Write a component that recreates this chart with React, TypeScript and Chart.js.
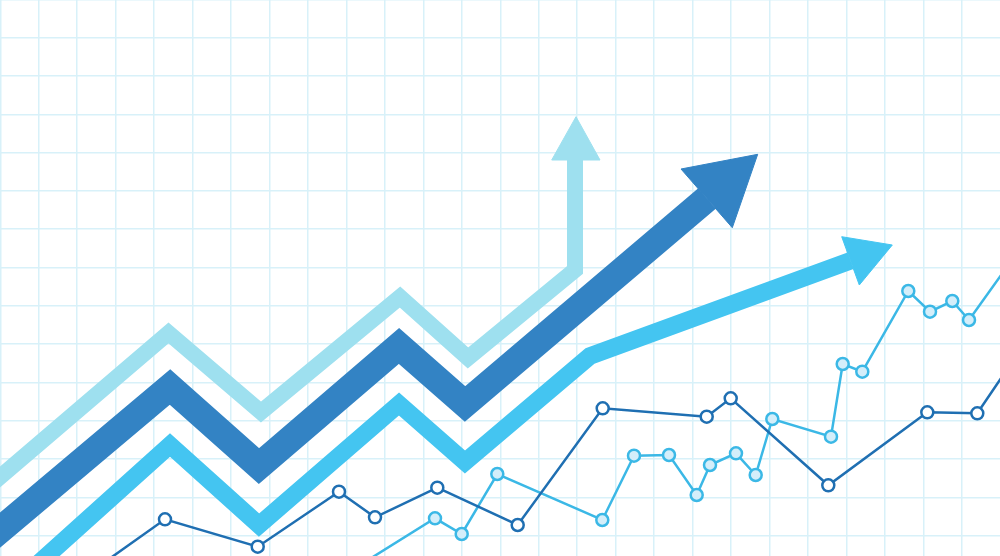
import React, { useEffect, useRef } from "react";
import { Chart, registerables } from "chart.js";

Chart.register(...registerables);

// Grid positions (value units equal to a 1000 x 556 plotting field, y measured downward)
const gridX: number[] = Array.from({ length: 26 }, (_, k) => +(38.46 * k + 0.3).toFixed(1));
const gridY: number[] = Array.from({ length: 15 }, (_, k) => +(38.3 * k - 0.6).toFixed(1));

// Thick trend arrows (centre lines)
const lightArrowX = [-20, 168.5, 261, 400, 468, 575, 575];
const lightArrowY = [494, 333, 412, 297, 358, 270, 160];
const lightHeadX = [551.7, 576, 600];
const lightHeadY = [160, 116.7, 160];

const darkArrowX = [-20, 170, 259, 399, 465, 707];
const darkArrowY = [547, 387, 466, 346, 404, 198.5];
const darkHeadX = [681, 757.7, 732.3];
const darkHeadY = [169, 154.3, 227.7];

const midArrowX = [20, 170, 259, 399, 465, 590, 850.5];
const midArrowY = [580, 445, 525, 404, 462, 356, 260.8];
const midHeadX = [841.7, 892.3, 859.3];
const midHeadY = [236.7, 245, 285];

// Thin marker series
const navyX = [95, 165, 257.7, 339, 375, 437.3, 517.7, 602.7, 706.7, 730.7, 828.3, 927.3, 977.3, 1010];
const navyY = [569, 519.3, 546.7, 491.7, 517.3, 487.7, 525, 408.3, 416.7, 398.3, 485.3, 412.3, 413.3, 365];

const skyX = [360, 435, 461.7, 497.3, 602.3, 634, 669, 696.7, 710, 736, 755.7, 772.3, 831, 842.7, 862.3, 908.3, 930, 952.3, 969, 1010];
const skyY = [565, 518.3, 534, 474, 520, 455.7, 455, 495, 465, 453.3, 475, 419, 436.7, 364, 371.7, 291, 311.7, 301, 320, 262.7];

const pts = (xs: number[], ys: number[]) => xs.map((x, i) => ({ x, y: ys[i] }));
const closed = (xs: number[], ys: number[]) => {
  const p = pts(xs, ys);
  return [...p, p[0]];
};
const radii = (n: number, r: number) => Array.from({ length: n }, (_, i) => (i === 0 || i === n - 1 ? 0 : r));

export default function App() {
  const ref = useRef<HTMLCanvasElement | null>(null);

  useEffect(() => {
    if (!ref.current) return;
    const lineBase = { tension: 0, borderCapStyle: "butt" as const, borderJoinStyle: "miter" as const, pointRadius: 0, fill: false };
    const head = (xs: number[], ys: number[], color: string) => ({
      data: closed(xs, ys),
      borderColor: color,
      backgroundColor: color,
      borderWidth: 1,
      pointRadius: 0,
      tension: 0,
      fill: "shape" as const,
    });

    const chart = new Chart(ref.current, {
      type: "line",
      data: {
        datasets: [
          {
            data: pts(navyX, navyY),
            borderColor: "#1f6fb2",
            borderWidth: 2.5,
            tension: 0,
            fill: false,
            pointRadius: radii(navyX.length, 6),
            pointBorderWidth: 2.5,
            pointBorderColor: "#1f6fb2",
            pointBackgroundColor: "#ffffff",
          },
          {
            data: pts(skyX, skyY),
            borderColor: "#3bb8e6",
            borderWidth: 2.5,
            tension: 0,
            fill: false,
            pointRadius: radii(skyX.length, 6),
            pointBorderWidth: 2.5,
            pointBorderColor: "#3bb8e6",
            pointBackgroundColor: "#d4eefa",
          },
          head(midHeadX, midHeadY, "#44c5f1"),
          { ...lineBase, data: pts(midArrowX, midArrowY), borderColor: "#44c5f1", borderWidth: 17.5 },
          head(darkHeadX, darkHeadY, "#3383c4"),
          { ...lineBase, data: pts(darkArrowX, darkArrowY), borderColor: "#3383c4", borderWidth: 27 },
          head(lightHeadX, lightHeadY, "#9ee0ef"),
          { ...lineBase, data: pts(lightArrowX, lightArrowY), borderColor: "#9ee0ef", borderWidth: 16 },
        ],
      },
      options: {
        responsive: false,
        animation: false,
        devicePixelRatio: 1,
        events: [],
        layout: { padding: 0 },
        plugins: { legend: { display: false }, tooltip: { enabled: false } },
        scales: {
          x: {
            type: "linear",
            min: 0,
            max: 1000,
            ticks: { display: false },
            grid: { color: "#d8f1f9", lineWidth: 1.5, drawTicks: false },
            border: { display: false },
            afterBuildTicks: (axis: any) => {
              axis.ticks = gridX.map((v) => ({ value: v }));
            },
          },
          y: {
            type: "linear",
            min: 0,
            max: 556,
            reverse: true,
            ticks: { display: false },
            grid: { color: "#d8f1f9", lineWidth: 1.5, drawTicks: false },
            border: { display: false },
            afterBuildTicks: (axis: any) => {
              axis.ticks = gridY.map((v) => ({ value: v }));
            },
          },
        },
      },
    });
    return () => chart.destroy();
  }, []);

  return (
    <div style={{ position: "fixed", left: 0, top: 0, width: 1000, height: 556, background: "#ffffff" }}>
      <canvas ref={ref} width={1000} height={556} />
    </div>
  );
}
